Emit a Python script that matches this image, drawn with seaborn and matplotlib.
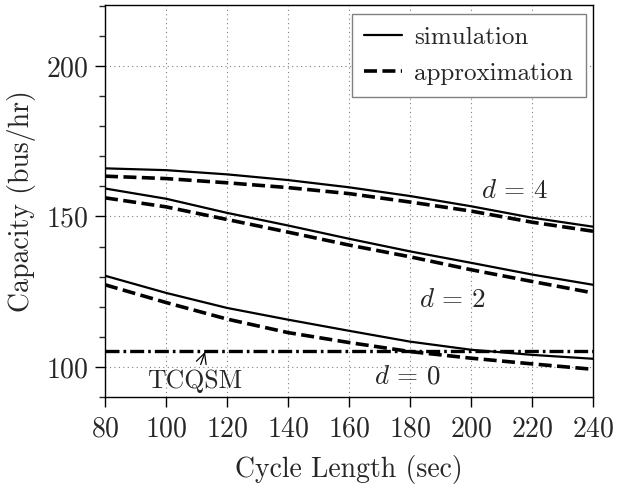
import matplotlib
matplotlib.use("Agg")
import matplotlib.pyplot as plt
import seaborn as sns
from matplotlib.lines import Line2D

# ---- data ----
cycle = [80, 100, 120, 140, 160, 180, 200, 220, 240]

sim_d4 = [166.0, 165.4, 164.0, 162.1, 159.7, 156.8, 153.4, 149.6, 146.6]
app_d4 = [163.4, 162.6, 161.2, 159.6, 157.6, 154.8, 151.8, 148.1, 145.1]

sim_d2 = [159.3, 155.9, 151.2, 147.0, 142.6, 138.4, 134.6, 130.7, 127.3]
app_d2 = [156.2, 153.2, 149.0, 144.8, 140.5, 136.6, 132.3, 128.4, 124.6]

sim_d0 = [130.3, 124.6, 119.6, 115.7, 112.0, 108.4, 105.7, 104.0, 102.7]
app_d0 = [127.3, 121.4, 115.9, 111.4, 108.1, 105.1, 102.9, 101.0, 99.2]

tcqsm_x = [80, 240]
tcqsm_y = [105.4, 105.4]

x_ticks = [80, 100, 120, 140, 160, 180, 200, 220, 240]
y_ticks = [100, 150, 200]

# ---- style ----
sns.set_style("white")
plt.rcParams["font.family"] = ["cmr10", "DejaVu Serif"]
plt.rcParams["mathtext.fontset"] = "cm"
plt.rcParams["axes.formatter.use_mathtext"] = True
plt.rcParams["axes.unicode_minus"] = False

fig = plt.figure(figsize=(6.3, 4.94), dpi=100)
ax = fig.add_axes([0.1667, 0.1964, 0.7746, 0.7935])

dash_app = (0, (3.6, 1.5))
for ys in (sim_d4, sim_d2, sim_d0):
    sns.lineplot(x=cycle, y=ys, ax=ax, color="black", linewidth=1.6, linestyle="-")
for ys in (app_d4, app_d2, app_d0):
    sns.lineplot(x=cycle, y=ys, ax=ax, color="black", linewidth=2.6, linestyle=dash_app)
sns.lineplot(x=tcqsm_x, y=tcqsm_y, ax=ax, color="black", linewidth=2.4,
             linestyle=(0, (4.2, 1.2, 0.8, 1.2)))

ax.set_xlim(80, 240)
ax.set_ylim(90, 220.3)
ax.set_xticks(x_ticks)
ax.set_yticks(y_ticks)
ax.set_yticks(list(range(90, 221, 10)), minor=True)
ax.tick_params(axis="both", which="major", direction="out", length=7, width=1,
               labelsize=20, color="black", left=True, bottom=True, pad=5)
ax.tick_params(axis="x", which="major", pad=7)
ax.tick_params(axis="y", which="minor", direction="out", length=4, width=1, left=True)
ax.grid(True, which="major", linestyle=(0, (1, 3)), color="gray", linewidth=0.8)

for s in ax.spines.values():
    s.set_visible(True)
    s.set_color("black")
    s.set_linewidth(1.0)

ax.set_xlabel("Cycle Length (sec)", fontsize=20, labelpad=9)
ax.set_ylabel("Capacity (bus/hr)", fontsize=20, labelpad=7)

ax.text(214.4, 158.4, r"$d\,=\,4$", fontsize=19.5, ha="center", va="center")
ax.text(193.8, 122.3, r"$d\,=\,2$", fontsize=19.5, ha="center", va="center")
ax.text(179.0, 96.7, r"$d\,=\,0$", fontsize=19.5, ha="center", va="center")
ax.annotate("TCQSM", xy=(112.8, 105.0), xytext=(109.5, 95.3), fontsize=18.5,
            ha="center", va="center",
            arrowprops=dict(arrowstyle="->", color="black", lw=0.9, shrinkA=1, shrinkB=0))

handles = [Line2D([], [], color="black", linewidth=1.6, linestyle="-"),
           Line2D([], [], color="black", linewidth=2.6, linestyle=dash_app)]
leg = ax.legend(handles, ["simulation", "approximation"], loc="upper right",
                bbox_to_anchor=(0.985, 0.978), fontsize=18, frameon=True, fancybox=False,
                framealpha=1, edgecolor="gray", handlelength=1.5, handletextpad=0.5,
                borderpad=0.5, labelspacing=0.55, borderaxespad=0.0)
leg.get_frame().set_linewidth(1.0)

fig.savefig("out.png", dpi=100)
